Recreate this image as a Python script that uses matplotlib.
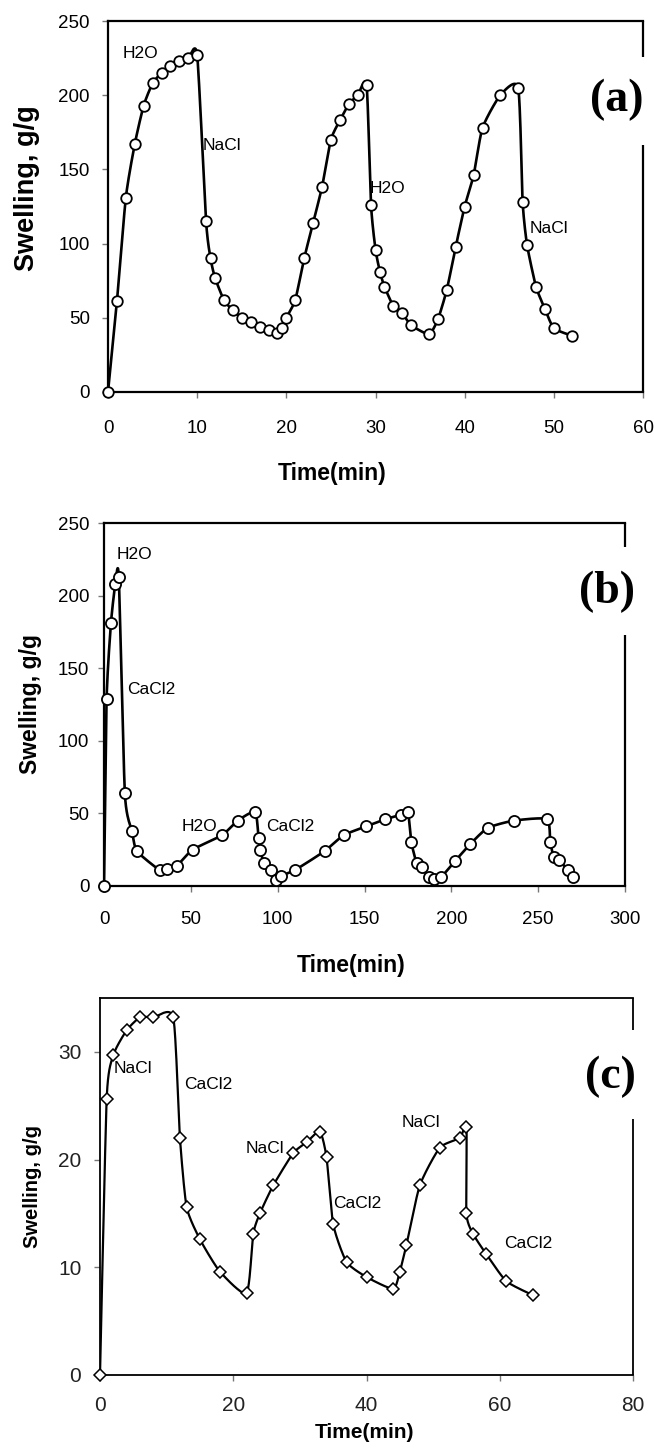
import numpy as np
import matplotlib
matplotlib.use("Agg")
import matplotlib.pyplot as plt

plt.rcParams['font.family'] = ['Liberation Sans', 'DejaVu Sans']

# ---------------- data ----------------
# (a) H2O / NaCl cycles
t_a = [0, 1, 2, 3, 4, 5, 6, 7, 8, 9, 10, 11, 11.5, 12, 13, 14, 15, 16, 17, 18, 19,
       19.5, 20, 21, 22, 23, 24, 25, 26, 27, 28, 29, 29.5, 30, 30.5, 31, 32, 33, 34,
       36, 37, 38, 39, 40, 41, 42, 44, 46, 46.5, 47, 48, 49, 50, 52]
s_a = [0, 61, 131, 167, 193, 208, 215, 220, 223, 225, 227, 115, 90, 77, 62, 55, 50,
       47, 44, 42, 40, 43, 50, 62, 90, 114, 138, 170, 183, 194, 200, 207, 126, 96,
       81, 71, 58, 53, 45, 39, 49, 69, 98, 125, 146, 178, 200, 205, 128, 99, 71, 56,
       43, 38]

# (b) H2O / CaCl2 cycles
t_b = [0, 1.5, 4, 6.5, 8.5, 12, 16, 19, 32, 36, 42, 51, 68, 77, 87, 89, 90, 92, 96,
       99, 102, 110, 127, 138, 151, 162, 171, 175, 177, 180, 183, 187, 190, 194,
       202, 211, 221, 236, 255, 257, 259, 262, 267, 270]
s_b = [0, 129, 181, 208, 213, 64, 38, 24, 11, 12, 14, 25, 35, 45, 51, 33, 25, 16,
       11, 4, 7, 11, 24, 35, 41, 46, 49, 51, 30, 16, 13, 6, 5, 6, 17, 29, 40, 45,
       46, 30, 20, 18, 11, 6]

# (c) NaCl / CaCl2 cycles
t_c = [0, 1, 2, 4, 6, 8, 11, 12, 13, 15, 18, 22, 23, 24, 26, 29, 31, 33, 34, 35,
       37, 40, 44, 45, 46, 48, 51, 54, 55, 55, 56, 58, 61, 65]
s_c = [0, 25.6, 29.7, 32.0, 33.2, 33.2, 33.2, 22.0, 15.6, 12.6, 9.6, 7.6, 13.1,
       15.0, 17.6, 20.6, 21.6, 22.6, 20.2, 14.0, 10.5, 9.1, 8.0, 9.6, 12.1, 17.6,
       21.1, 22.0, 23.0, 15.0, 13.1, 11.2, 8.7, 7.4]

notes_a = [("H2O", 1.6, 228), ("NaCl", 10.6, 166), ("H2O", 29.3, 137), ("NaCl", 47.3, 110)]
notes_b = [("H2O", 7.5, 228), ("CaCl2", 13.6, 135), ("H2O", 44.8, 41), ("CaCl2", 93.3, 41)]
notes_c = [("NaCl", 2.1, 28.5), ("CaCl2", 12.7, 27.0), ("NaCl", 21.8, 21.0),
           ("CaCl2", 35.0, 15.9), ("NaCl", 45.3, 23.4), ("CaCl2", 60.7, 12.2)]


def smooth(x, y, k=0.6, n=20):
    """Cardinal (reduced-tension Catmull-Rom) spline through the points."""
    p = np.column_stack([x, y]).astype(float)
    ext = np.vstack([p[0], p, p[-1]])
    m = k * (ext[2:] - ext[:-2]) / 2.0
    u = np.linspace(0, 1, n, endpoint=False)[:, None]
    h00 = 2 * u ** 3 - 3 * u ** 2 + 1
    h10 = u ** 3 - 2 * u ** 2 + u
    h01 = -2 * u ** 3 + 3 * u ** 2
    h11 = u ** 3 - u ** 2
    out = []
    for i in range(len(p) - 1):
        out.append(h00 * p[i] + h10 * m[i] + h01 * p[i + 1] + h11 * m[i + 1])
    out.append(p[-1][None, :])
    out = np.vstack(out)
    return out[:, 0], out[:, 1]


W, H = 654, 1448
fig = plt.figure(figsize=(W / 100, H / 100), dpi=100)


def box(l, t, r, b):
    return [l / W, 1 - b / H, (r - l) / W, (b - t) / H]


def style(ax, xlim, ylim, xticks, yticks, tick_fs, tick_color, gap, xpad, ypad, lw=1.6):
    ax.set_xlim(*xlim)
    ax.set_ylim(*ylim)
    ax.set_xticks(xticks)
    ax.set_yticks(yticks)
    for s in ['left', 'bottom', 'top']:
        ax.spines[s].set_linewidth(lw)
    ax.spines['right'].set_visible(False)
    ax.plot([1, 1], [0, gap[0]], transform=ax.transAxes, color='black', lw=lw,
            clip_on=False, solid_capstyle='butt')
    ax.plot([1, 1], [gap[1], 1], transform=ax.transAxes, color='black', lw=lw,
            clip_on=False, solid_capstyle='butt')
    ax.tick_params(direction='out', length=4, width=1, color='#777777',
                   labelsize=tick_fs, labelcolor=tick_color)
    ax.tick_params(axis='x', pad=xpad)
    ax.tick_params(axis='y', pad=ypad)


# ---- (a)
ax1 = fig.add_axes(box(108, 21, 643, 392))
style(ax1, (0, 60), (0, 250), range(0, 61, 10), range(0, 251, 50), 13.5, 'black',
      (0.666, 0.903), xpad=16, ypad=9)
xs, ys = smooth(t_a, s_a)
ax1.plot(xs, ys, color='black', lw=1.9, zorder=3)
ax1.plot(t_a, s_a, ls='none', marker='o', ms=7.6, mfc='white', mec='black',
         mew=1.3, zorder=4, clip_on=False)
for txt, x, y in notes_a:
    ax1.text(x, y, txt, fontsize=12.5, ha='left', va='center', zorder=5)
ax1.text(0.951, 0.787, '(a)', transform=ax1.transAxes, ha='center', va='center',
         fontsize=33, fontweight='bold', family='Liberation Serif')
ax1.set_xlabel('Time(min)', fontsize=16.5, fontweight='bold')
ax1.xaxis.set_label_coords(0.419, -0.19)
ax1.set_ylabel('Swelling, g/g', fontsize=19.5, fontweight='bold')
ax1.yaxis.set_label_coords(-0.127, 0.55)

# ---- (b)
ax2 = fig.add_axes(box(104, 523, 625, 886))
style(ax2, (0, 300), (0, 250), range(0, 301, 50), range(0, 251, 50), 13.5, 'black',
      (0.691, 0.934), xpad=14, ypad=6.5)
xs, ys = smooth(t_b, s_b)
ax2.plot(xs, ys, color='black', lw=1.9, zorder=3)
ax2.plot(t_b, s_b, ls='none', marker='o', ms=8, mfc='white', mec='black',
         mew=1.3, zorder=4, clip_on=False)
for txt, x, y in notes_b:
    ax2.text(x, y, txt, fontsize=12.5, ha='left', va='center', zorder=5)
ax2.text(0.965, 0.81, '(b)', transform=ax2.transAxes, ha='center', va='center',
         fontsize=33, fontweight='bold', family='Liberation Serif')
ax2.set_xlabel('Time(min)', fontsize=16.5, fontweight='bold')
ax2.xaxis.set_label_coords(0.474, -0.186)
ax2.set_ylabel('Swelling, g/g', fontsize=16.5, fontweight='bold')
ax2.yaxis.set_label_coords(-0.119, 0.5)

# ---- (c)
ax3 = fig.add_axes(box(100, 998, 633, 1375))
style(ax3, (0, 80), (0, 35), range(0, 81, 20), range(0, 31, 10), 15, '#222222',
      (0.679, 0.915), xpad=11, ypad=9.5, lw=1.3)
xs, ys = smooth(t_c, s_c)
ax3.plot(xs, ys, color='black', lw=1.6, zorder=3)
ax3.plot(t_c, s_c, ls='none', marker='D', ms=6, mfc='white', mec='black',
         mew=1.1, zorder=4, clip_on=False)
for txt, x, y in notes_c:
    ax3.text(x, y, txt, fontsize=12.5, ha='left', va='center', zorder=5)
ax3.text(0.957, 0.79, '(c)', transform=ax3.transAxes, ha='center', va='center',
         fontsize=33, fontweight='bold', family='Liberation Serif')
ax3.set_xlabel('Time(min)', fontsize=15, fontweight='bold')
ax3.xaxis.set_label_coords(0.497, -0.128)
ax3.set_ylabel('Swelling, g/g', fontsize=14.5, fontweight='bold')
ax3.yaxis.set_label_coords(-0.109, 0.5)

fig.savefig('out.png', dpi=100)
